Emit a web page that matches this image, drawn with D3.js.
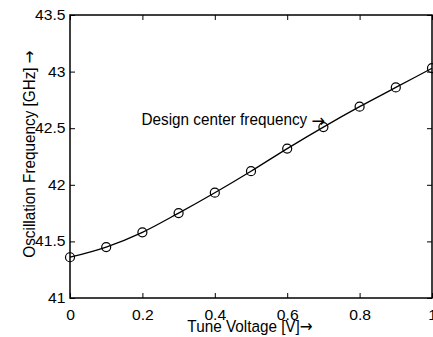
<!DOCTYPE html>
<html>
<head>
<meta charset="utf-8">
<script src="https://cdn.jsdelivr.net/npm/d3@7"></script>
<style>
  html, body { margin: 0; padding: 0; background: #fff; }
  text { font-family: "Liberation Sans", Arial, Helvetica, sans-serif; fill: #000; }
  .arrow { font-family: "DejaVu Sans", sans-serif; }
  /* the scanned figure has wide digits and narrow label text */
  .narrow-l { transform-box: fill-box; transform-origin: 0% 50%; transform: scaleX(0.9); }
  .narrow-c { transform-box: fill-box; transform-origin: 50% 50%; transform: scaleX(0.9); }
  .wide-c { transform-box: fill-box; transform-origin: 50% 0%; transform: scaleX(1.12); }
  .wide-r { transform-box: fill-box; transform-origin: 100% 50%; transform: scaleX(1.12); }
</style>
</head>
<body>
<svg id="chart" width="433" height="337"></svg>
<script>
const voltage = [0, 0.1, 0.2, 0.3, 0.4, 0.5, 0.6, 0.7, 0.8, 0.9, 1.0];
const frequency = [41.36, 41.45, 41.58, 41.75, 41.93, 42.12, 42.32, 42.51, 42.69, 42.86, 43.03];
const xTicks = [0, 0.2, 0.4, 0.6, 0.8, 1];
const yTicks = [41, 41.5, 42, 42.5, 43, 43.5];
const annotation = "Design center frequency";

const svg = d3.select("#chart");
const margin = { top: 15, right: 1, bottom: 39, left: 70 };
const width = +svg.attr("width");
const height = +svg.attr("height");
const innerWidth = width - margin.left - margin.right;
const innerHeight = height - margin.top - margin.bottom;

const x = d3.scaleLinear().domain([0, 1]).range([0, innerWidth]);
const y = d3.scaleLinear().domain([41, 43.5]).range([innerHeight, 0]);

const g = svg.append("g").attr("transform", `translate(${margin.left},${margin.top})`);

const fmt = d => d3.format("~g")(d);

// axes: ticks point inward, like matlab
const styleAxis = cls => sel => {
  sel.select(".domain").remove();
  sel.selectAll(".tick line").attr("stroke", "#000").attr("stroke-width", 1);
  sel.selectAll(".tick text").style("font-size", "14px").attr("class", cls);
};

g.append("g")
  .attr("transform", `translate(0,${innerHeight})`)
  .call(d3.axisBottom(x).tickValues(xTicks).tickFormat(fmt).tickSizeInner(-5).tickSizeOuter(0).tickPadding(12))
  .call(styleAxis("wide-c"));
g.append("g")
  .call(d3.axisTop(x).tickValues(xTicks).tickFormat("").tickSizeInner(-5).tickSizeOuter(0))
  .call(styleAxis(""));
g.append("g")
  .call(d3.axisLeft(y).tickValues(yTicks).tickFormat(fmt).tickSizeInner(-5).tickSizeOuter(0).tickPadding(4.5))
  .call(styleAxis("wide-r"));
g.append("g")
  .attr("transform", `translate(${innerWidth},0)`)
  .call(d3.axisRight(y).tickValues(yTicks).tickFormat("").tickSizeInner(-5).tickSizeOuter(0))
  .call(styleAxis(""));

g.append("rect")
  .attr("width", innerWidth)
  .attr("height", innerHeight)
  .attr("fill", "none")
  .attr("stroke", "#000")
  .attr("stroke-width", 1.5);

const data = voltage.map((v, i) => ({ v, f: frequency[i] }));

g.append("path")
  .datum(data)
  .attr("fill", "none")
  .attr("stroke", "#000")
  .attr("stroke-width", 1.3)
  .attr("d", d3.line().x(d => x(d.v)).y(d => y(d.f)).curve(d3.curveMonotoneX));

g.selectAll("circle")
  .data(data)
  .enter()
  .append("circle")
  .attr("cx", d => x(d.v))
  .attr("cy", d => y(d.f))
  .attr("r", 4.5)
  .attr("fill", "none")
  .attr("stroke", "#000")
  .attr("stroke-width", 1.2);

const note = svg.append("text")
  .attr("class", "narrow-l")
  .attr("x", 141.5)
  .attr("y", 125)
  .style("font-size", "17px");
note.append("tspan").text(annotation + " ");
note.append("tspan").attr("class", "arrow").attr("dy", 2).style("font-size", "18px").text("\u2192");

const xl = svg.append("text")
  .attr("class", "narrow-c")
  .attr("x", 250)
  .attr("y", height - 5)
  .attr("text-anchor", "middle")
  .style("font-size", "17px");
xl.append("tspan").text("Tune Voltage [V]");
xl.append("tspan").attr("class", "arrow").text("\u2192");

const yl = svg.append("g")
  .attr("transform", "translate(35,154) rotate(-90)")
  .append("text")
  .attr("class", "narrow-c")
  .attr("text-anchor", "middle")
  .style("font-size", "17px");
yl.append("tspan").text("Oscillation Frequency [GHz] ");
yl.append("tspan").attr("class", "arrow").text("\u2192");
</script>
</body>
</html>
